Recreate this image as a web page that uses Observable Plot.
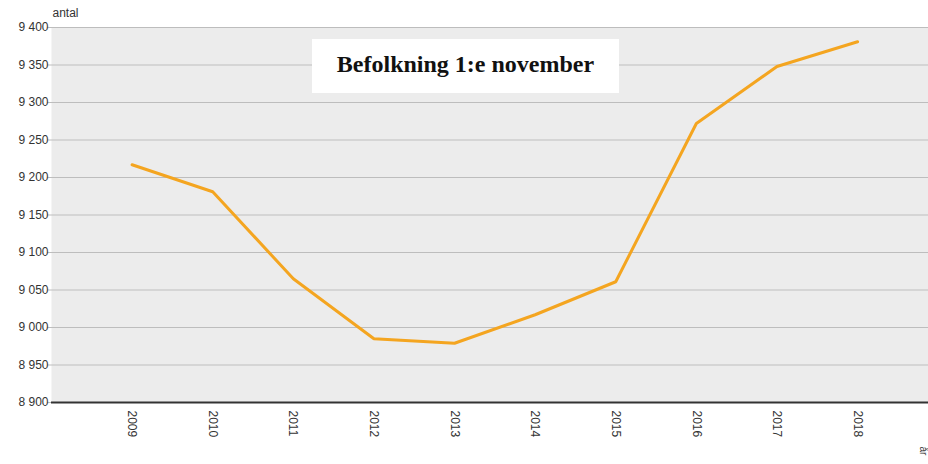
<!DOCTYPE html>
<html>
<head>
<meta charset="utf-8">
<script src="https://cdn.jsdelivr.net/npm/d3@7"></script>
<script src="https://cdn.jsdelivr.net/npm/@observablehq/plot@0.6"></script>
<style>
  html, body { margin: 0; padding: 0; background: #fff; }
  #wrap { position: relative; width: 928px; height: 464px; overflow: hidden; }
  #title {
    position: absolute; left: 312px; top: 39px; width: 307px; height: 54px;
    background: #fff; display: flex; align-items: center; justify-content: center;
    font-family: "Liberation Serif", "DejaVu Serif", serif; font-weight: bold;
    font-size: 24px; color: #111; padding-bottom: 3px; box-sizing: border-box;
  }
</style>
</head>
<body>
<div id="wrap"><div id="chart"></div><div id="title">Befolkning 1:e november</div></div>
<script>
const years = [2009, 2010, 2011, 2012, 2013, 2014, 2015, 2016, 2017, 2018];
const population = [9217, 9181, 9065, 8985, 8979, 9017, 9061, 9272, 9348, 9381];
const yTicks = [8900, 8950, 9000, 9050, 9100, 9150, 9200, 9250, 9300, 9350, 9400];

const data = years.map((y, i) => ({year: y, value: population[i]}));
const fmt = d => d3.format(",")(d).replace(/,/g, " ");

const chart = Plot.plot({
  width: 928,
  height: 464,
  marginLeft: 51,
  marginRight: 0,
  marginTop: 27,
  marginBottom: 62,
  style: {fontFamily: "'Liberation Sans', Arial, sans-serif", fontSize: "12px", background: "#fff", color: "#333"},
  x: {domain: [2008, 2018.88], label: null},
  y: {domain: [8900, 9400], label: null},
  marks: [
    Plot.frame({fill: "#ececec", stroke: null}),
    Plot.ruleY(yTicks, {stroke: "#bdbdbd", strokeWidth: 1.2, x1: 2008, x2: 2018.88, insetLeft: -4}),
    Plot.axisY({ticks: yTicks, tickFormat: fmt, tickSize: 0, tickPadding: 3, fontSize: 12, label: null}),
    Plot.axisX({ticks: years, tickFormat: d => String(d), tickSize: 0, tickPadding: 8, tickRotate: 90, fontSize: 12, label: null}),
    Plot.ruleY([8900], {stroke: "#333", strokeWidth: 2}),
    Plot.line(data, {x: "year", y: "value", stroke: "#f4a520", strokeWidth: 3, strokeLinejoin: "miter"}),
    Plot.text(["antal"], {frameAnchor: "top-left", dy: -19, dx: 1, textAnchor: "start", fontSize: 12}),
    Plot.text(["år"], {frameAnchor: "bottom-right", dy: 44, dx: -9, rotate: 90, textAnchor: "start", fontSize: 10})
  ]
});
document.getElementById("chart").appendChild(chart);
</script>
</body>
</html>
